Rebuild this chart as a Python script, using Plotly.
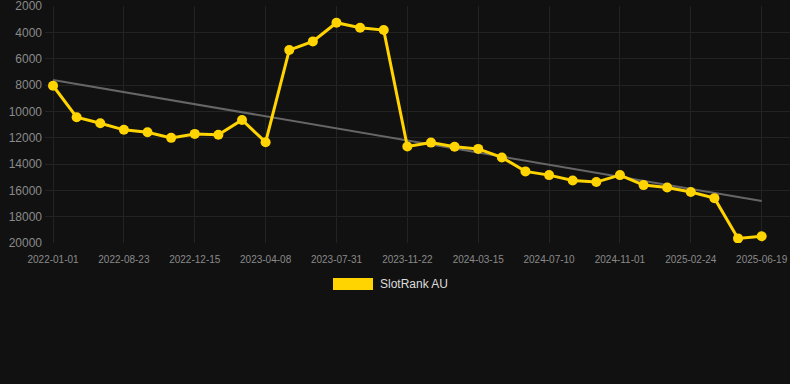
import plotly.graph_objects as go

dates = ["2022-01-01", "2022-06-08", "2022-07-16", "2022-08-23", "2022-09-30", "2022-11-07",
         "2022-12-15", "2023-01-22", "2023-03-01", "2023-04-08", "2023-05-16", "2023-06-23",
         "2023-07-31", "2023-09-07", "2023-10-15", "2023-11-22", "2023-12-30", "2024-02-06",
         "2024-03-15", "2024-04-23", "2024-06-01", "2024-07-10", "2024-08-17", "2024-09-24",
         "2024-11-01", "2024-12-09", "2025-01-16", "2025-02-24", "2025-04-03", "2025-05-11",
         "2025-06-19"]
ranks = [8050, 10440, 10900, 11400, 11580, 12010, 11710, 11780, 10650, 12340,
         5340, 4680, 3260, 3640, 3820, 12670, 12370, 12690, 12850, 13500,
         14560, 14840, 15250, 15370, 14840, 15600, 15780, 16130, 16590, 19650, 19490]
trend_x = [dates[0], dates[-1]]
trend_y = [7610, 16810]
tick_labels = dates[::3]
y_ticks = [2000, 4000, 6000, 8000, 10000, 12000, 14000, 16000, 18000, 20000]
series_name = "SlotRank AU"

gold = "#FFD400"
bg = "#111111"
grid = "#232323"
tick_col = "#8a8a8a"

fig = go.Figure()
fig.add_trace(go.Scatter(x=trend_x, y=trend_y, mode="lines",
                         line=dict(color="#666666", width=2), showlegend=False,
                         hoverinfo="skip"))
fig.add_trace(go.Scatter(x=dates, y=ranks, mode="lines+markers", name=series_name,
                         line=dict(color=gold, width=3),
                         marker=dict(color=gold, size=10), showlegend=False))

fig.update_layout(
    width=790, height=384,
    paper_bgcolor=bg, plot_bgcolor=bg,
    margin=dict(l=45, r=0, t=6, b=141),
    font=dict(family="Liberation Sans, Arial, sans-serif", color=tick_col),
    xaxis=dict(type="category", categoryorder="array", categoryarray=dates,
               range=[-0.34, 31.2], tickmode="array", tickvals=tick_labels,
               ticktext=tick_labels, tickfont=dict(size=10, color=tick_col),
               showgrid=True, gridcolor=grid, gridwidth=1, zeroline=False,
               showline=False, ticks="", ticklabelstandoff=9,
               ticklabeloverflow="allow"),
    yaxis=dict(range=[20000, 1990], tickmode="array", tickvals=y_ticks,
               tickformat="d", ticklabeloverflow="allow",
               tickfont=dict(size=12, color=tick_col), showgrid=True,
               gridcolor=grid, gridwidth=1, zeroline=False, showline=False,
               ticks="", ticklabelstandoff=2),
    showlegend=False,
)

fig.add_shape(type="rect", xref="paper", yref="paper",
              x0=(333 - 45) / 745, x1=(373 - 45) / 745,
              y0=(243 - 290) / 237, y1=(243 - 278) / 237,
              fillcolor=gold, line=dict(width=0))
fig.add_annotation(xref="paper", yref="paper", x=(378 - 45) / 745, y=(243 - 284) / 237,
                   text=series_name, showarrow=False, xanchor="left", yanchor="middle",
                   font=dict(size=12, color="#dddddd", family="Liberation Sans, Arial, sans-serif"))

fig.write_html("out.html", config={"displayModeBar": False},
               post_script="document.body.style.margin='0';document.body.style.background='#111111';")
